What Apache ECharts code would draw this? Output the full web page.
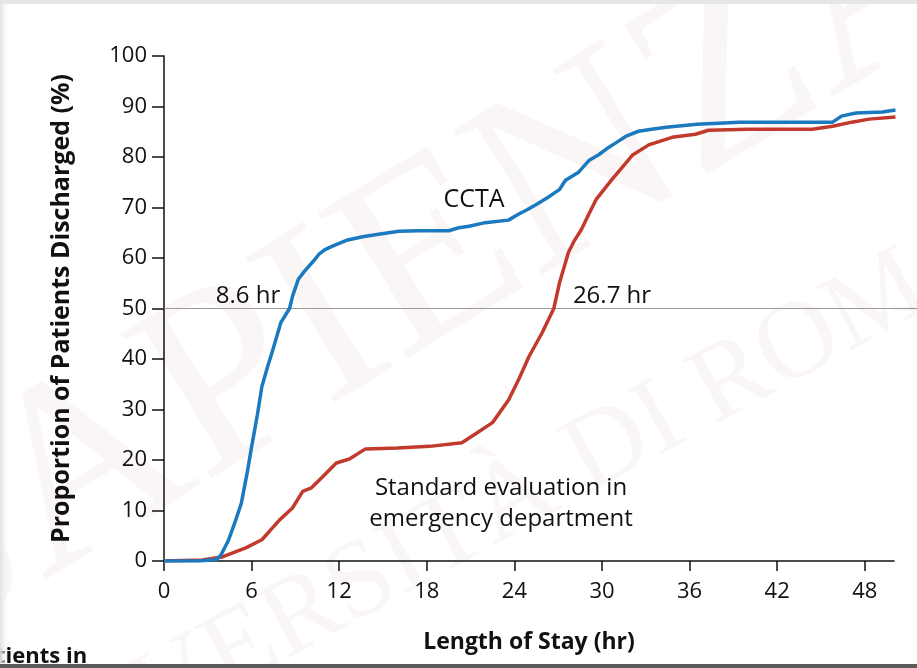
<!DOCTYPE html>
<html><head><meta charset="utf-8">
<script src="https://cdn.jsdelivr.net/npm/echarts@6/dist/echarts.min.js"></script>
<style>
html,body{margin:0;padding:0;background:#fff;}
#c{width:917px;height:668px;}
</style></head>
<body><div id="c"></div>
<script>
// Length of stay (hr) vs proportion discharged (%)
var cctaHours = [0, 2.4, 3.6, 3.9, 4.4, 4.9, 5.3, 5.7, 6.0, 6.4, 6.7, 7.1, 7.4, 8.0, 8.6, 8.8, 9.2, 9.6, 9.9, 10.3, 10.6, 11.0, 11.5, 12.5, 13.6, 14.7, 16.1, 17.5, 19.5, 20.2, 20.9, 22.0, 23.6, 24.3, 24.9, 25.5, 26.4, 27.1, 27.5, 28.4, 29.1, 29.8, 30.4, 31.0, 31.7, 32.5, 33.4, 34.4, 36.5, 39.4, 42.5, 45.8, 46.4, 47.4, 49.2, 50.1];
var cctaPct   = [0, 0, 0.3, 1.2, 4, 8, 11.5, 17.5, 22.6, 29, 34.5, 38.5, 41.3, 47.2, 50, 52.4, 55.8, 57.3, 58.3, 59.6, 60.7, 61.6, 62.3, 63.5, 64.2, 64.7, 65.3, 65.4, 65.4, 66.0, 66.3, 67.0, 67.5, 68.7, 69.6, 70.6, 72.2, 73.6, 75.4, 77.0, 79.3, 80.5, 81.8, 82.9, 84.2, 85.1, 85.5, 85.9, 86.5, 86.9, 86.9, 86.9, 88.1, 88.7, 88.9, 89.3];
var sedHours  = [0, 2.6, 4.0, 5.6, 6.7, 7.2, 7.9, 8.8, 9.5, 10.1, 10.8, 11.8, 12.7, 13.8, 16.0, 18.2, 20.4, 21.4, 22.5, 23.6, 24.3, 25.0, 25.9, 26.7, 27.1, 27.7, 28.1, 28.6, 29.1, 29.6, 30.2, 30.7, 31.4, 32.1, 33.2, 34.8, 36.4, 37.3, 40.0, 44.4, 45.8, 47.1, 48.3, 50.1];
var sedPct    = [0, 0.2, 0.8, 2.6, 4.2, 5.8, 8.1, 10.5, 13.8, 14.5, 16.5, 19.4, 20.2, 22.2, 22.4, 22.7, 23.4, 25.3, 27.4, 31.9, 36.0, 40.5, 45.2, 50, 55.2, 61.1, 63.4, 65.7, 68.7, 71.6, 73.8, 75.6, 78.0, 80.4, 82.4, 83.9, 84.5, 85.3, 85.5, 85.5, 86.1, 86.9, 87.5, 87.9];
var xTicks = [0, 6, 12, 18, 24, 30, 36, 42, 48];
var yTicks = [0, 10, 20, 30, 40, 50, 60, 70, 80, 90, 100];
var medianPct = 50;
var seriesNames = ['CCTA', 'Standard evaluation in emergency department'];

function pairs(xs, ys){ return xs.map(function(x,i){ return [x, ys[i]]; }); }

var FONT = 'Open Sans';
var chart = echarts.init(document.getElementById('c'), null, {renderer:'canvas'});
var option = {
  animation:false,
  backgroundColor:'#fff',
  grid:{left:164, right:23, top:56, bottom:107, containLabel:false},
  xAxis:{
    type:'value', min:0, max:50, interval:6,
    axisLine:{show:true, lineStyle:{color:'#111', width:1.5}},
    axisTick:{show:true, inside:false, length:10, lineStyle:{color:'#111', width:1.5}},
    axisLabel:{fontFamily:FONT, fontSize:22, color:'#111', margin:20,
      showMaxLabel:false,
      formatter:function(v){ return xTicks.indexOf(v) >= 0 ? String(v) : ''; }},
    splitLine:{show:false},
    name:'Length of Stay (hr)', nameLocation:'middle', nameGap:70,
    nameTextStyle:{fontFamily:FONT, fontSize:23, fontWeight:'bold', color:'#111'}
  },
  yAxis:{
    type:'value', min:0, max:100, interval:10,
    axisLine:{show:true, lineStyle:{color:'#111', width:1.5}},
    axisTick:{show:true, inside:false, length:12, lineStyle:{color:'#111', width:1.5}},
    axisLabel:{fontFamily:FONT, fontSize:22, color:'#111', margin:17,
      formatter:function(v){ return yTicks.indexOf(v) >= 0 ? String(v) : ''; }},
    splitLine:{show:false},
    name:'Proportion of Patients Discharged (%)', nameLocation:'middle', nameGap:90,
    nameTextStyle:{fontFamily:FONT, fontSize:25, fontWeight:'bold', color:'#111'}
  },
  series:[
    {name:seriesNames[1], type:'line', data:pairs(sedHours, sedPct), showSymbol:false, symbol:'none',
     lineStyle:{color:'#c23a2c', width:3.5}, z:3},
    {name:seriesNames[0], type:'line', data:pairs(cctaHours, cctaPct), showSymbol:false, symbol:'none',
     lineStyle:{color:'#1a79bf', width:3.5}, z:4,
     markLine:{silent:true, symbol:'none', label:{show:false},
       lineStyle:{color:'#999', width:1.2, type:'solid'}, data:[{yAxis:medianPct}], z:1}}
  ]
};
chart.setOption(option);

var y50 = chart.convertToPixel({gridIndex:0}, [0, medianPct])[1];
var xEnd = chart.convertToPixel({gridIndex:0}, [50, 0])[0];
var wm = 'rgba(170,70,70,0.05)';
var AF = '"Open Sans"';
chart.setOption({graphic:[
  {type:'text', z:0, x:420, y:270, rotation:0.55, silent:true,
   style:{text:'SAPIENZA', font:'260px "Liberation Serif"', fill:wm, textAlign:'center', textVerticalAlign:'middle'}},
  {type:'text', z:0, x:480, y:520, rotation:0.5, silent:true,
   style:{text:'UNIVERSITÀ DI ROMA', font:'110px "Liberation Serif"', fill:wm, textAlign:'center', textVerticalAlign:'middle'}},
  {type:'line', z:1, silent:true, shape:{x1:xEnd, y1:y50, x2:917, y2:y50}, style:{stroke:'#999', lineWidth:1.2}},
  {type:'text', z:10, x:248, y:296, style:{text:'8.6 hr', font:'24px ' + AF, fill:'#111', textAlign:'center', textVerticalAlign:'middle'}},
  {type:'text', z:10, x:612, y:296, style:{text:'26.7 hr', font:'24px ' + AF, fill:'#111', textAlign:'center', textVerticalAlign:'middle'}},
  {type:'text', z:10, x:474, y:200, style:{text:'CCTA', font:'25px ' + AF, fill:'#111', textAlign:'center', textVerticalAlign:'middle'}},
  {type:'text', z:10, x:501, y:504, style:{text:'Standard evaluation in\nemergency department', font:'24px ' + AF, lineHeight:31, fill:'#111', textAlign:'center', textVerticalAlign:'middle'}},
  {type:'text', z:10, x:-4, y:646, style:{text:'tients in', font:'bold 22px ' + AF, fill:'#111'}},
  {type:'rect', z:20, shape:{x:0, y:0, width:917, height:4}, style:{fill:'#e6e6e6'}},
  {type:'rect', z:20, shape:{x:0, y:0, width:8, height:668}, style:{fill:new echarts.graphic.LinearGradient(0,0,1,0,[{offset:0,color:'#e2e2e2'},{offset:1,color:'rgba(240,240,240,0)'}])}},
  {type:'rect', z:21, shape:{x:0, y:664, width:917, height:4}, style:{fill:'#5a5a5a'}}
]});
</script>
</body></html>
